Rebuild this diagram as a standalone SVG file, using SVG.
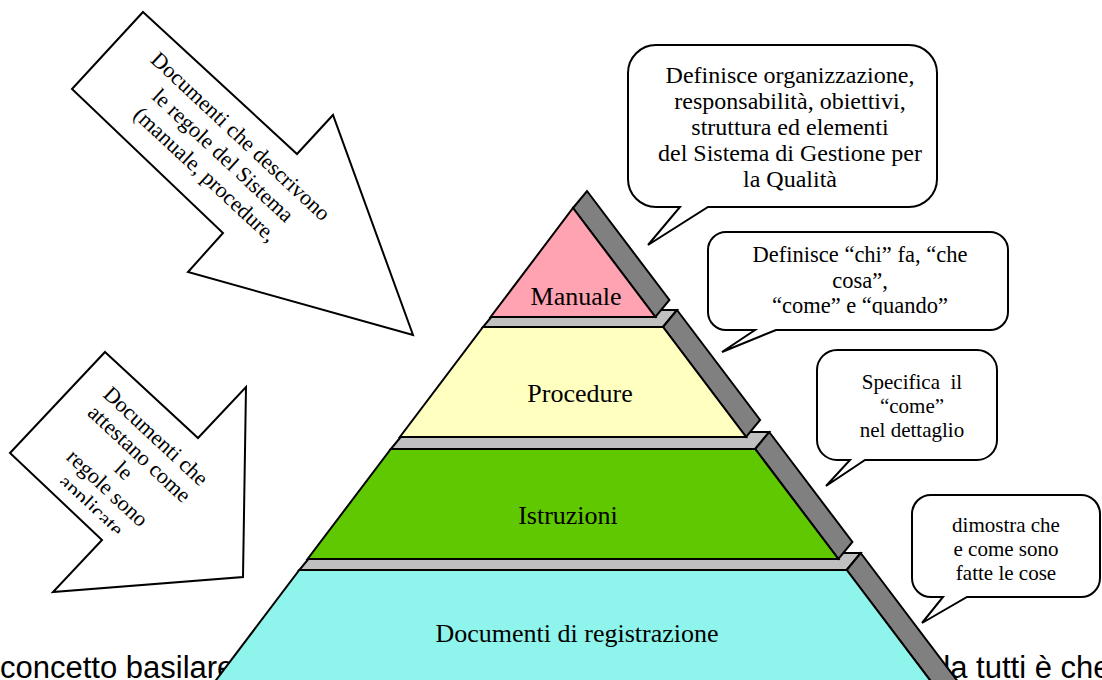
<svg xmlns="http://www.w3.org/2000/svg" width="1102" height="680" viewBox="0 0 1102 680">
<style>
.top{fill:#C0C0C0;stroke:#000;stroke-width:2;stroke-linejoin:miter}
.side{fill:#808080;stroke:#000;stroke-width:2;stroke-linejoin:miter}
.front{stroke:#000;stroke-width:2;stroke-linejoin:miter}
.lbl{font-family:"Liberation Serif","Times New Roman",serif;font-size:26px;fill:#000;text-anchor:middle}
.bt{font-family:"Liberation Serif","Times New Roman",serif;fill:#000;text-anchor:middle}
.callout{fill:#fff;stroke:#000;stroke-width:2;stroke-linejoin:miter}
.arrow{fill:#fff;stroke:#000;stroke-width:2;stroke-linejoin:miter}
.body{font-family:"Liberation Sans",Arial,sans-serif;font-size:31px;fill:#000}
</style>
<defs>
<clipPath id="clipA2"><rect x="-200" y="-100" width="400" height="157"/></clipPath>
<clipPath id="clipB2"><rect x="700" y="230" width="320" height="85"/></clipPath>
</defs>

<text class="body" x="0" y="678">concetto basilare</text>
<text class="body" x="933" y="678">da tutti è che</text>

<g id="arrow-top">
<polygon class="arrow" points="143,12 297,154 333,115 413,335 188,272 223,233 72,89"/>
<g transform="translate(221.5,157) rotate(43)" class="bt" font-size="22">
<text x="0" y="-21">Documenti che descrivono</text>
<text x="0" y="5">le regole del Sistema</text>
<text x="0" y="31">(manuale, procedure,</text>
</g>
</g>

<g id="arrow-bottom">
<polygon class="arrow" points="105,352 198,438 246,387 243,577 53,592 102,540 10,453"/>
<g transform="translate(127,467) rotate(43)" class="bt" font-size="22">
<g clip-path="url(#clipA2)">
<text x="0" y="-35">Documenti che</text>
<text x="0" y="-11">attestano come</text>
<text x="0" y="12">le</text>
<text x="0" y="36">regole sono</text>
<text x="0" y="60">applicate</text>
</g>
</g>
</g>

<g id="level-registrazione">
<polygon class="top" points="299.3,570 846.7,570 860.7,553 313.3,553"/>
<polygon class="side" points="846.7,570 860.7,553 959,683 945,700"/>
<polygon class="front" fill="#8FF5EC" points="299.3,570 846.7,570 945,700 201,700"/>
<text class="lbl" x="577" y="642">Documenti di registrazione</text>
</g>

<g id="level-istruzioni">
<polygon class="top" points="390.8,449 755.2,449 769.2,432 404.8,432"/>
<polygon class="side" points="755.2,449 769.2,432 852.4,542 838.4,559"/>
<polygon class="front" fill="#5FC800" points="390.8,449 755.2,449 838.4,559 307.6,559"/>
<text class="lbl" x="568" y="524">Istruzioni</text>
</g>

<g id="level-procedure">
<polygon class="top" points="483,327 663,327 677,310 497,310"/>
<polygon class="side" points="663,327 677,310 760.1,420 746.1,437"/>
<polygon class="front" fill="#FFFFC0" points="483,327 663,327 746.1,437 399.9,437"/>
<text class="lbl" x="580" y="402">Procedure</text>
</g>

<g id="level-manuale">
<polygon class="side" points="573,208 587,191 669.4,300 655.4,317"/>
<polygon class="front" fill="#FFA2B2" points="573,208 655.4,317 490.6,317"/>
<text class="lbl" x="576" y="305">Manuale</text>
</g>

<g id="callout-manuale">
<path class="callout" d="M656,45 H909 A28,28 0 0 1 937,73 V179 A28,28 0 0 1 909,207 H708 L648,245 L680,207 H656 A28,28 0 0 1 628,179 V73 A28,28 0 0 1 656,45 Z"/>
<g class="bt" font-size="24">
<text x="790" y="83">Definisce organizzazione,</text>
<text x="790" y="109">responsabilità, obiettivi,</text>
<text x="790" y="135">struttura ed elementi</text>
<text x="790" y="161">del Sistema di Gestione per</text>
<text x="790" y="187">la Qualità</text>
</g>
</g>

<g id="callout-procedure">
<path class="callout" d="M726,232 H990 A18,18 0 0 1 1008,250 V312 A18,18 0 0 1 990,330 H776 L722,352 L755,330 H726 A18,18 0 0 1 708,312 V250 A18,18 0 0 1 726,232 Z"/>
<g class="bt" font-size="22.5" clip-path="url(#clipB2)">
<text x="860" y="262">Definisce “chi” fa, “che</text>
<text x="860" y="287.5">cosa”,</text>
<text x="860" y="313">“come” e “quando”</text>
</g>
</g>

<g id="callout-istruzioni">
<path class="callout" d="M837,350 H977 A20,20 0 0 1 997,370 V440 A20,20 0 0 1 977,460 H865 L826,486 L850,460 H837 A20,20 0 0 1 817,440 V370 A20,20 0 0 1 837,350 Z"/>
<g class="bt" font-size="21">
<text x="912" y="389" xml:space="preserve">Specifica  il</text>
<text x="912" y="413">“come”</text>
<text x="912" y="437">nel dettaglio</text>
</g>
</g>

<g id="callout-registrazione">
<path class="callout" d="M931,495 H1081 A19,19 0 0 1 1100,514 V578 A19,19 0 0 1 1081,597 H967 L922,623 L943,597 H931 A19,19 0 0 1 912,578 V514 A19,19 0 0 1 931,495 Z"/>
<g class="bt" font-size="21">
<text x="1006" y="532">dimostra che</text>
<text x="1006" y="556">e come sono</text>
<text x="1006" y="580">fatte le cose</text>
</g>
</g>

<g id="connectors"></g>
</svg>
